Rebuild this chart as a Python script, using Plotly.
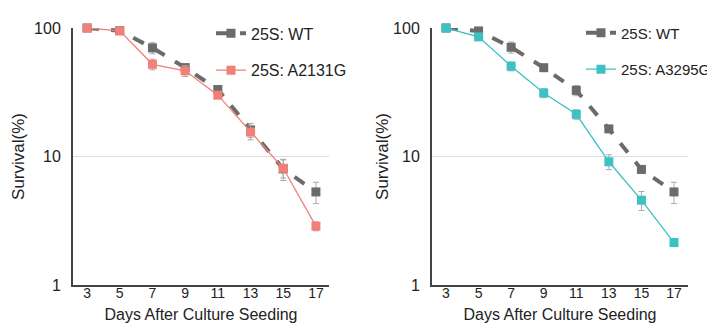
import plotly.graph_objects as go
from plotly.subplots import make_subplots

days = [3, 5, 7, 9, 11, 13, 15, 17]
y_ticks = [1, 10, 100]
y_tick_labels = ["1", "10", "100"]

# Left panel
wt_left = [100, 95.3, 70, 49.2, 33.2, 16.1, 8.0, 5.3]
wt_left_err = [0.5, 1.5, 7, 2.5, 2.5, 2, 1.5, 1.0]
a2131g = [100, 95, 52.2, 46.4, 30.0, 15.5, 8.1, 2.87]
a2131g_err = [0.5, 1.0, 5, 4.5, 1.5, 2, 1.3, 0.23]

# Right panel
wt_right = [100, 94.9, 70.8, 49.1, 32.7, 16.4, 7.93, 5.3]
wt_right_err = [0.5, 1.5, 7, 2, 3, 1, 0.5, 1.0]
a3295g = [100, 85.3, 50.4, 31.2, 21.3, 9.1, 4.57, 2.14]
a3295g_err = [0.5, 1.5, 4, 2.5, 1.8, 1.2, 0.77, 0.15]

WT_COLOR = "#6b6b6b"
PINK = "#f08078"
TEAL = "#3ec1c3"
ERR = "#aaaaaa"
FONT = "Liberation Sans, Arial, Helvetica, sans-serif"

fig = make_subplots(rows=1, cols=2)


def add_pair(col, wt, wt_err, mut, mut_err, mut_name, mut_color, legend):
    fig.add_trace(go.Scatter(
        x=days, y=wt, name="25S: WT", mode="lines+markers",
        line=dict(color=WT_COLOR, width=4, dash="dash"),
        marker=dict(symbol="square", size=9, color=WT_COLOR),
        error_y=dict(type="data", array=wt_err, color=ERR, thickness=1, width=3),
        legend=legend, legendgroup=f"wt{col}", cliponaxis=False,
    ), row=1, col=col)
    fig.add_trace(go.Scatter(
        x=days, y=mut, name=mut_name, mode="lines+markers",
        line=dict(color=mut_color, width=1.3),
        marker=dict(symbol="square", size=9, color=mut_color),
        error_y=dict(type="data", array=mut_err, color=ERR, thickness=1, width=3),
        legend=legend, legendgroup=f"mut{col}", cliponaxis=False,
    ), row=1, col=col)


add_pair(1, wt_left, wt_left_err, a2131g, a2131g_err, "25S: A2131G", PINK, "legend")
add_pair(2, wt_right, wt_right_err, a3295g, a3295g_err, "25S: A3295G", TEAL, "legend2")

xdomains = [[65 / 715, 321 / 715], [424 / 715, 680 / 715]]
xranges = [[2.14, 17.8], [2.14, 17.86]]
title_standoffs = [5, 0]
for i in (1, 2):
    fig.update_xaxes(
        row=1, col=i, domain=xdomains[i - 1], range=xranges[i - 1],
        tickvals=days, ticktext=[str(d) for d in days],
        showgrid=False, zeroline=False, showline=True, linecolor="#444", linewidth=2,
        ticks="", ticklabelstandoff=-6,
        tickfont=dict(size=14, color="#222", family=FONT),
        title=dict(text="Days After Culture Seeding", font=dict(size=16, color="#222", family=FONT), standoff=9),
    )
    fig.update_yaxes(
        row=1, col=i, type="log", range=[0, 2],
        tickvals=y_ticks, ticktext=y_tick_labels,
        showgrid=True, gridcolor="#dddddd", gridwidth=1,
        zeroline=False, showline=True, linecolor="#444", linewidth=2,
        ticks="", ticklabelstandoff=7,
        tickfont=dict(size=16, color="#222", family=FONT),
        title=dict(text="Survival(%)", font=dict(size=17, color="#222", family=FONT),
                   standoff=title_standoffs[i - 1]),
    )

fig.update_layout(
    width=715, height=326,
    margin=dict(l=0, r=0, t=20, b=49),
    paper_bgcolor="white", plot_bgcolor="white",
    font=dict(family=FONT, color="#222"),
    legend=dict(x=203 / 715, y=1.045, xanchor="left", yanchor="top", xref="paper",
                font=dict(size=16, family=FONT, color="#222"), tracegroupgap=13,
                bgcolor="rgba(0,0,0,0)"),
    legend2=dict(x=573 / 715, y=1.045, xanchor="left", yanchor="top", xref="paper",
                 font=dict(size=15, family=FONT, color="#222"), tracegroupgap=14,
                 bgcolor="rgba(0,0,0,0)"),
)

fig.write_html("out.html")
